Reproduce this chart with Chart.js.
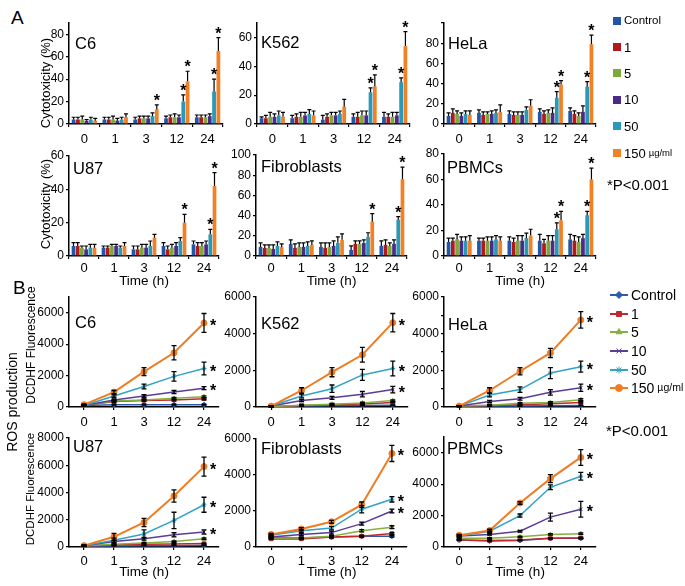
<!DOCTYPE html>
<html>
<head>
<meta charset="utf-8">
<script src="https://cdn.jsdelivr.net/npm/chart.js@4.4.0/dist/chart.umd.min.js"></script>
<style>
  body { margin: 0; width: 685px; height: 586px; background: #fff; position: relative; overflow: hidden;
         font-family: "Liberation Sans", Arial, sans-serif; color: #000; }
  canvas { position: absolute; }
  .t { position: absolute; line-height: 1; white-space: nowrap; }
  .rot { position: absolute; line-height: 1; white-space: nowrap; transform: translate(-50%, -50%) rotate(-90deg); }
  .leg { position: absolute; display: flex; align-items: center; height: 16px; white-space: nowrap; line-height: 1; }
</style>
</head>
<body>
<script>
const family = '"Liberation Sans", Arial, sans-serif';
Chart.defaults.font.family = family;
Chart.defaults.color = '#000';

const times = ['0', '1', '3', '12', '24'];
const doses = ['Control', '1', '5', '10', '50', '150'];
const barColors = ['#1f56a5', '#b0191e', '#7ea83a', '#4c2b88', '#2a98b8', '#f28025'];
const lineColors = ['#2a5caa', '#c0282d', '#86b03c', '#5b3c96', '#31a3c6', '#f07c22'];
const pointStyles = ['rectRot', 'rect', 'triangle', 'crossRot', 'star', 'circle'];

// A: cytotoxicity (%) - rows: Control, 1, 5, 10, 50, 150 ug/ml ; columns: times
const c6Cyto = [[4, 4, 4, 5, 6], [4, 4, 5, 6, 6], [4, 4, 5, 6, 6], [3, 3, 5, 6, 7], [4, 4, 7, 20, 29], [3, 6, 13, 38, 65]];
const c6CytoErr = [[2, 2, 2, 2, 2], [2, 2, 2, 2, 2], [3, 3, 2, 3, 2], [1, 2, 2, 2, 2], [2, 2, 3, 6, 11], [2, 3, 4, 9, 12]];
const c6CytoStars = [[5, 2], [4, 3], [5, 3], [4, 4], [5, 4]];

const k562Cyto = [[4, 4, 3, 5, 5], [4, 5, 5, 5, 5], [5, 5, 6, 6, 5], [5, 6, 6, 6, 6], [6, 7, 7, 22, 29], [5, 6, 12, 26, 54]];
const k562CytoErr = [[1, 2, 3, 2, 3], [2, 2, 2, 3, 2], [3, 3, 2, 3, 3], [2, 2, 2, 3, 2], [3, 3, 2, 3, 3], [3, 3, 5, 8, 10]];
const k562CytoStars = [[4, 3], [5, 3], [4, 4], [5, 4]];

const helaCyto = [[8, 11, 10, 12, 13], [11, 9, 9, 10, 10], [10, 10, 9, 11, 8], [8, 10, 9, 11, 12], [10, 11, 14, 26, 37], [9, 12, 18, 39, 79]];
const helaCytoErr = [[3, 3, 3, 3, 3], [4, 3, 3, 3, 3], [3, 2, 3, 3, 3], [3, 3, 3, 5, 6], [3, 3, 3, 6, 5], [4, 7, 6, 4, 9]];
const helaCytoStars = [[4, 3], [5, 3], [4, 4], [5, 4]];

const u87Cyto = [[6, 5, 4, 6, 7], [6, 5, 4, 4, 6], [5, 6, 5, 5, 6], [4, 6, 5, 6, 7], [5, 5, 6, 9, 13], [5, 6, 11, 20, 42]];
const u87CytoErr = [[2, 1, 2, 2, 2], [2, 1, 2, 2, 2], [1, 1, 2, 2, 2], [2, 1, 2, 2, 2], [2, 1, 3, 2, 3], [2, 2, 2, 5, 8]];
const u87CytoStars = [[5, 3], [4, 4], [5, 4]];

const fibCyto = [[9, 12, 9, 6, 10], [8, 8, 8, 12, 11], [8, 9, 9, 12, 10], [7, 9, 10, 13, 12], [10, 10, 13, 19, 36], [9, 11, 16, 34, 76]];
const fibCytoErr = [[4, 4, 4, 4, 5], [3, 4, 5, 3, 5], [3, 4, 4, 3, 3], [4, 4, 5, 3, 4], [4, 4, 6, 4, 3], [3, 4, 6, 8, 12]];
const fibCytoStars = [[5, 3], [4, 4], [5, 4]];

const pbmcCyto = [[11, 12, 12, 12, 13], [12, 12, 11, 10, 12], [13, 12, 12, 12, 11], [12, 12, 12, 12, 14], [12, 13, 14, 21, 32], [12, 12, 16, 28, 60]];
const pbmcCytoErr = [[3, 2, 3, 5, 4], [2, 2, 3, 3, 4], [4, 3, 4, 4, 4], [3, 3, 4, 4, 3], [3, 3, 4, 5, 3], [4, 3, 5, 7, 9]];
const pbmcCytoStars = [[4, 3], [5, 3], [4, 4], [5, 4]];

// B: ROS production (DCDHF fluorescence)
const c6Ros = [[100, 150, 150, 150, 150], [100, 350, 420, 450, 520], [100, 380, 450, 550, 650], [100, 450, 700, 950, 1200], [100, 700, 1300, 1950, 2450], [150, 950, 2250, 3450, 5350]];
const c6RosErr = [[30, 30, 30, 30, 30], [50, 50, 50, 60, 60], [50, 50, 60, 60, 60], [50, 60, 80, 100, 100], [50, 80, 150, 300, 400], [50, 100, 250, 450, 600]];

const k562Ros = [[20, 50, 70, 80, 100], [20, 80, 120, 160, 250], [30, 100, 150, 220, 350], [50, 350, 500, 700, 950], [50, 600, 1000, 1750, 2100], [50, 900, 1900, 2850, 4600]];
const k562RosErr = [[20, 20, 20, 20, 20], [30, 30, 30, 30, 30], [40, 40, 40, 40, 40], [30, 60, 80, 150, 180], [30, 100, 200, 300, 400], [30, 150, 250, 400, 500]];

const helaRos = [[50, 50, 60, 70, 80], [50, 80, 120, 180, 250], [50, 100, 200, 250, 400], [50, 300, 450, 800, 1050], [50, 650, 950, 1850, 2200], [50, 900, 1950, 2950, 4750]];
const helaRosErr = [[20, 20, 20, 20, 20], [30, 30, 30, 30, 40], [30, 30, 40, 40, 50], [30, 60, 80, 150, 200], [30, 100, 150, 300, 300], [30, 150, 200, 250, 450]];

const u87Ros = [[50, 80, 100, 100, 120], [80, 150, 200, 220, 250], [100, 200, 300, 400, 600], [100, 400, 600, 900, 1100], [100, 500, 950, 1950, 3100], [100, 750, 1800, 3750, 5900]];
const u87RosErr = [[20, 20, 20, 20, 20], [30, 30, 30, 30, 30], [30, 40, 40, 50, 60], [30, 80, 100, 150, 150], [30, 150, 300, 600, 550], [30, 250, 300, 450, 700]];

const fibRos = [[550, 500, 550, 600, 600], [450, 450, 550, 600, 750], [500, 500, 600, 900, 1100], [550, 700, 800, 1300, 2000], [650, 900, 1050, 2100, 2650], [700, 1000, 1400, 2350, 5200]];
const fibRosErr = [[40, 40, 40, 40, 50], [40, 40, 40, 50, 50], [50, 50, 50, 60, 80], [50, 60, 80, 80, 100], [50, 80, 100, 200, 150], [50, 80, 80, 150, 450]];

const pbmcRos = [[450, 380, 420, 550, 550], [450, 420, 450, 550, 580], [550, 550, 650, 800, 850], [700, 800, 1000, 1900, 2400], [700, 1000, 2000, 3800, 4500], [750, 1050, 2800, 4350, 5700]];
const pbmcRosErr = [[30, 30, 30, 30, 30], [30, 30, 30, 40, 40], [40, 40, 40, 50, 50], [50, 50, 50, 250, 500], [50, 80, 100, 150, 250], [50, 80, 80, 250, 500]];

const rosStars = [[3, 4], [4, 4], [5, 4]];

const errorBars = {
  id: 'errorBars',
  afterDatasetsDraw(chart, args, opts) {
    const { ctx } = chart;
    const y = chart.scales.y;
    ctx.save();
    ctx.strokeStyle = '#000';
    ctx.lineWidth = opts.width;
    chart.data.datasets.forEach((ds, di) => {
      chart.getDatasetMeta(di).data.forEach((el, i) => {
        const v = ds.data[i], e = ds.errors[i];
        const yTop = y.getPixelForValue(v + e);
        const yBot = opts.upOnly ? el.y : y.getPixelForValue(v - e);
        ctx.beginPath();
        ctx.moveTo(el.x, yBot);
        ctx.lineTo(el.x, yTop);
        ctx.moveTo(el.x - opts.cap, yTop);
        ctx.lineTo(el.x + opts.cap, yTop);
        if (!opts.upOnly) {
          ctx.moveTo(el.x - opts.cap, yBot);
          ctx.lineTo(el.x + opts.cap, yBot);
        }
        ctx.stroke();
      });
    });
    ctx.restore();
  }
};

const stars = {
  id: 'stars',
  afterDatasetsDraw(chart, args, opts) {
    const { ctx } = chart;
    const y = chart.scales.y;
    ctx.save();
    ctx.fillStyle = '#000';
    ctx.font = 'bold 16px ' + family;
    ctx.textAlign = 'center';
    ctx.textBaseline = 'alphabetic';
    opts.list.forEach(([di, i]) => {
      const ds = chart.data.datasets[di];
      const el = chart.getDatasetMeta(di).data[i];
      if (opts.onBar) {
        ctx.fillText('*', el.x, y.getPixelForValue(ds.data[i] + ds.errors[i]) + 1);
      } else {
        ctx.fillText('*', el.x + 9, el.y + 8);
      }
    });
    ctx.restore();
  }
};

function panel({ box, kind, values, errs, starList, yMax, yTicks, yLabels, timeTitle, xPad }) {
  const L = 40, T = 10, R = 16, B = timeTitle ? 34 : 22;
  const cv = document.createElement('canvas');
  cv.width = box.r - box.l + L + R;
  cv.height = box.b - box.t + T + B;
  cv.style.left = (box.l - L) + 'px';
  cv.style.top = (box.t - T) + 'px';
  document.body.appendChild(cv);
  const isBar = kind === 'bar';

  const datasets = values.map((v, i) => isBar ? {
    label: doses[i], data: v, errors: errs[i],
    backgroundColor: barColors[i], borderWidth: 0,
    categoryPercentage: 0.84, barPercentage: 0.88
  } : {
    label: doses[i], data: v, errors: errs[i],
    borderColor: lineColors[i], backgroundColor: lineColors[i],
    borderWidth: i === 5 ? 2 : 1.5, pointStyle: pointStyles[i],
    pointRadius: i === 5 ? 3 : 2.5, pointBorderWidth: 1, tension: 0, order: 5 - i
  });

  return new Chart(cv, {
    type: kind,
    data: { labels: times, datasets },
    options: {
      responsive: false, animation: false, devicePixelRatio: 1,
      layout: { padding: { top: T, right: R, left: 0, bottom: 0 } },
      plugins: {
        legend: { display: false }, tooltip: { enabled: false },
        errorBars: { upOnly: isBar, cap: isBar ? 2 : 2.5, width: isBar ? 1.2 : 1.3 },
        stars: { list: starList, onBar: isBar }
      },
      scales: {
        x: {
          offset: true,
          grid: { display: true, drawOnChartArea: false, offset: isBar, tickLength: 3, color: '#000', lineWidth: 1.2 },
          border: { color: '#000', width: 1.5 },
          ticks: { color: '#000', font: { size: 13 }, padding: xPad },
          title: { display: !!timeTitle, text: 'Time (h)', color: '#000', font: { size: 13.5 }, padding: { top: 0, bottom: 1 } },
          afterFit: s => { s.height = B; s.paddingLeft = 0; s.paddingRight = 0; }
        },
        y: {
          min: 0, max: yMax,
          afterBuildTicks: s => { s.ticks = yTicks.map(v => ({ value: v })); },
          grid: { display: true, drawOnChartArea: false, tickLength: 3, color: '#000', lineWidth: 1.2 },
          border: { color: '#000', width: 1.5 },
          ticks: { color: '#000', font: { size: 12 }, padding: 2, callback: v => yLabels.includes(v) ? String(v) : '' },
          afterFit: s => { s.width = L; s.paddingTop = 0; s.paddingBottom = 0; }
        }
      }
    },
    plugins: [errorBars, stars]
  });
}

const tick20 = [0, 20, 40, 60, 80];
const tick2k = [0, 2000, 4000, 6000];

panel({ box: { l: 69, r: 223, t: 23, b: 124 }, kind: 'bar', values: c6Cyto, errs: c6CytoErr, starList: c6CytoStars, yMax: 90, yTicks: tick20, yLabels: tick20, xPad: 5 });
panel({ box: { l: 257, r: 410, t: 23, b: 124 }, kind: 'bar', values: k562Cyto, errs: k562CytoErr, starList: k562CytoStars, yMax: 70, yTicks: [0, 20, 40, 60], yLabels: [0, 20, 40, 60], xPad: 5 });
panel({ box: { l: 444, r: 596, t: 23, b: 124 }, kind: 'bar', values: helaCyto, errs: helaCytoErr, starList: helaCytoStars, yMax: 100, yTicks: [0, 20, 40, 60, 80, 100], yLabels: tick20, xPad: 5 });

panel({ box: { l: 69, r: 219, t: 156, b: 256 }, kind: 'bar', values: u87Cyto, errs: u87CytoErr, starList: u87CytoStars, yMax: 60, yTicks: [0, 20, 40, 60], yLabels: [0, 20, 40, 60], timeTitle: true, xPad: 2 });
panel({ box: { l: 256, r: 407, t: 155, b: 256 }, kind: 'bar', values: fibCyto, errs: fibCytoErr, starList: fibCytoStars, yMax: 100, yTicks: [0, 20, 40, 60, 80, 100], yLabels: [0, 20, 40, 60, 80, 100], timeTitle: true, xPad: 2 });
panel({ box: { l: 444, r: 596, t: 154, b: 256 }, kind: 'bar', values: pbmcCyto, errs: pbmcCytoErr, starList: pbmcCytoStars, yMax: 80, yTicks: tick20, yLabels: tick20, timeTitle: true, xPad: 2 });

panel({ box: { l: 69, r: 219, t: 297, b: 407 }, kind: 'line', values: c6Ros, errs: c6RosErr, starList: rosStars, yMax: 7000, yTicks: tick2k, yLabels: tick2k, xPad: 5 });
panel({ box: { l: 256, r: 408, t: 297, b: 407 }, kind: 'line', values: k562Ros, errs: k562RosErr, starList: rosStars, yMax: 6000, yTicks: tick2k, yLabels: tick2k, xPad: 5 });
panel({ box: { l: 444, r: 596, t: 297, b: 407 }, kind: 'line', values: helaRos, errs: helaRosErr, starList: rosStars, yMax: 6000, yTicks: [0, 1000, 2000, 3000, 4000, 5000, 6000], yLabels: tick2k, xPad: 5 });

panel({ box: { l: 69, r: 219, t: 438, b: 547 }, kind: 'line', values: u87Ros, errs: u87RosErr, starList: rosStars, yMax: 8000, yTicks: [0, 2000, 4000, 6000, 8000], yLabels: [0, 2000, 4000, 6000, 8000], timeTitle: true, xPad: 4 });
panel({ box: { l: 256, r: 407, t: 439, b: 547 }, kind: 'line', values: fibRos, errs: fibRosErr, starList: rosStars, yMax: 6000, yTicks: tick2k, yLabels: tick2k, timeTitle: true, xPad: 4 });
panel({ box: { l: 444, r: 596, t: 437, b: 547 }, kind: 'line', values: pbmcRos, errs: pbmcRosErr, starList: rosStars, yMax: 7000, yTicks: [0, 1000, 2000, 3000, 4000, 5000, 6000, 7000], yLabels: tick2k, timeTitle: true, xPad: 4 });

// text outside the plot areas
function addText(text, x, capTop, size) {
  const d = document.createElement('div');
  d.className = 't';
  d.textContent = text;
  d.style.left = x + 'px';
  d.style.top = (capTop - 0.13 * size) + 'px';
  d.style.fontSize = size + 'px';
  document.body.appendChild(d);
  return d;
}
function addRotated(text, cx, cy, size) {
  const d = document.createElement('div');
  d.className = 'rot';
  d.textContent = text;
  d.style.left = cx + 'px';
  d.style.top = cy + 'px';
  d.style.fontSize = size + 'px';
  document.body.appendChild(d);
}

addText('A', 11, 10, 19);
addText('B', 13, 280, 19);

const titles = [['C6', 75, 37], ['K562', 261, 36], ['HeLa', 448, 37], ['U87', 73, 162], ['Fibroblasts', 261, 160], ['PBMCs', 447, 161],
  ['C6', 75, 316], ['K562', 261, 317], ['HeLa', 448, 318], ['U87', 73, 440], ['Fibroblasts', 261, 442], ['PBMCs', 447, 442]];
titles.forEach(([t, x, y]) => addText(t, x, y, 16.5));

addRotated('Cytotoxicity (%)', 45, 83, 13);
addRotated('Cytotoxicity (%)', 45, 204, 13);
addRotated('DCDHF Fluorescence', 31, 345, 12);
addRotated('DCDHF Fluorescence', 31, 489, 11.5);
addRotated('ROS production', 12, 402, 14);

addText('*P<0.001', 607, 179, 15);
addText('*P<0.001', 606, 425, 15);

// legend A: squares
const legACy = [20.5, 47, 73, 99.5, 126, 153];
doses.forEach((name, i) => {
  const row = document.createElement('div');
  row.className = 'leg';
  row.style.left = '613px';
  row.style.top = (legACy[i] - 8) + 'px';
  const sw = document.createElement('span');
  sw.style.cssText = `display:inline-block;width:8px;height:8px;background:${barColors[i]};margin-right:3px`;
  const tx = document.createElement('span');
  tx.textContent = name;
  tx.style.fontSize = i === 0 ? '11.5px' : '13px';
  row.append(sw, tx);
  if (i === 5) {
    const u = document.createElement('span');
    u.textContent = 'µg/ml';
    u.style.fontSize = '9.5px';
    u.style.marginLeft = '3px';
    row.append(u);
  }
  document.body.appendChild(row);
});

// legend B: line + marker
const legBCy = [295, 313.5, 332, 351, 369.5, 387.5];
doses.forEach((name, i) => {
  const row = document.createElement('div');
  row.className = 'leg';
  row.style.left = '609px';
  row.style.top = (legBCy[i] - 8) + 'px';
  const c = document.createElement('canvas');
  c.width = 20; c.height = 10;
  c.style.position = 'static';
  c.style.marginRight = '2px';
  const ctx = c.getContext('2d');
  ctx.strokeStyle = lineColors[i];
  ctx.fillStyle = lineColors[i];
  ctx.lineWidth = 2;
  ctx.beginPath(); ctx.moveTo(1, 5); ctx.lineTo(19, 5); ctx.stroke();
  ctx.lineWidth = 1;
  Chart.helpers.drawPoint(ctx, { pointStyle: pointStyles[i], radius: 3.5, rotation: 0, borderWidth: 1 }, 10, 5);
  const tx = document.createElement('span');
  tx.textContent = name;
  tx.style.fontSize = '14px';
  row.append(c, tx);
  if (i === 5) {
    const u = document.createElement('span');
    u.textContent = 'µg/ml';
    u.style.fontSize = '10.5px';
    u.style.marginLeft = '3px';
    row.append(u);
  }
  document.body.appendChild(row);
});
</script>
</body>
</html>
